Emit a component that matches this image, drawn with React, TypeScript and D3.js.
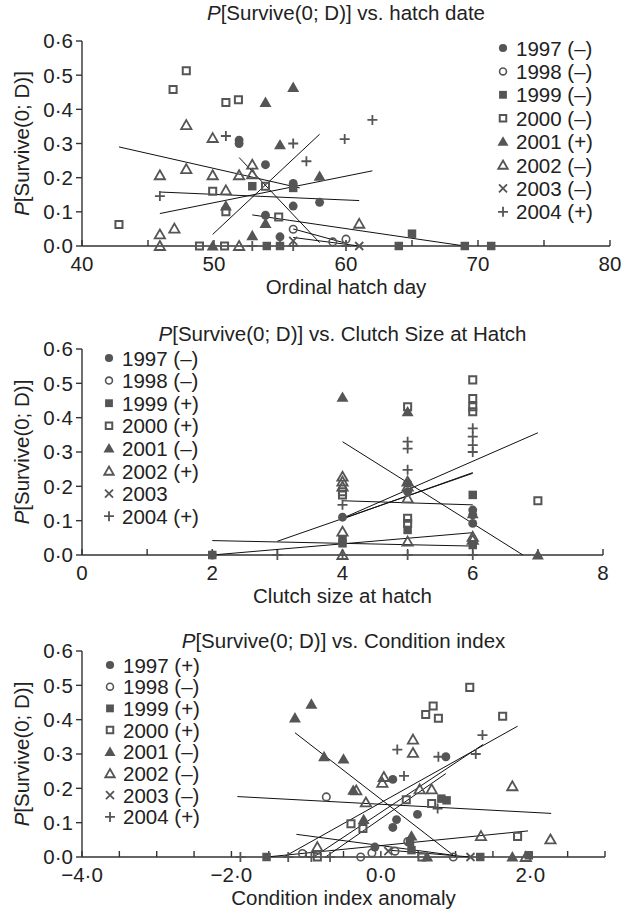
import React from 'react';
import * as d3 from 'd3';

const years = ['1997', '1998', '1999', '2000', '2001', '2002', '2003', '2004'];

// sign of the fitted slope per year, as printed in each legend
const hatchSigns = ['–', '–', '–', '–', '+', '–', '–', '+'];
const clutchSigns = ['–', '–', '+', '+', '–', '+', '', '+'];
const conditionSigns = ['+', '–', '+', '+', '–', '–', '–', '+'];

// [year, x, P]
const hatchPoints: [string, number, number][] = [
  ['1997', 51.9, 0.31], ['1997', 51.9, 0.3], ['1997', 53.9, 0.238], ['1997', 56, 0.183], ['1997', 56, 0.117],
  ['1997', 58, 0.128], ['1997', 53.9, 0.09], ['1997', 55, 0.027],
  ['1998', 56, 0.049], ['1998', 59, 0.012], ['1998', 60, 0.02],
  ['1999', 52.9, 0.175], ['1999', 56, 0.17], ['1999', 54, 0], ['1999', 55, 0], ['1999', 64, 0],
  ['1999', 65, 0.036], ['1999', 69, 0], ['1999', 71, 0],
  ['2000', 47.9, 0.513], ['2000', 46.9, 0.458], ['2000', 50.9, 0.42], ['2000', 51.85, 0.428], ['2000', 42.8, 0.063],
  ['2000', 49.9, 0.16], ['2000', 50.9, 0.1], ['2000', 53.9, 0.175], ['2000', 54.9, 0.085], ['2000', 48.9, 0], ['2000', 50.8, 0],
  ['2001', 56, 0.464], ['2001', 53.9, 0.42], ['2001', 55, 0.296], ['2001', 58, 0.204], ['2001', 50.9, 0.117],
  ['2001', 53.9, 0.066], ['2001', 52.9, 0.03], ['2001', 49.9, 0],
  ['2002', 47.9, 0.354], ['2002', 49.9, 0.316], ['2002', 45.9, 0.207], ['2002', 47.9, 0.225], ['2002', 49.9, 0.207],
  ['2002', 51.9, 0.207], ['2002', 52.9, 0.21], ['2002', 52.9, 0.238], ['2002', 50.9, 0.163], ['2002', 45.9, 0.034],
  ['2002', 47, 0.051], ['2002', 45.9, 0], ['2002', 51.9, 0], ['2002', 61, 0.065],
  ['2003', 56, 0.015], ['2003', 61, 0],
  ['2004', 50.9, 0.322], ['2004', 56, 0.3], ['2004', 57, 0.248], ['2004', 59.9, 0.313], ['2004', 62, 0.369],
  ['2004', 45.9, 0.146], ['2004', 52.9, 0], ['2004', 56, 0], ['2004', 60, 0],
];

// [year, x1, y1, x2, y2]
const hatchFits: [string, number, number, number, number][] = [
  ['1997', 51.9, 0.259, 58, 0.01],
  ['1998', 56, 0.05, 60, 0.008],
  ['1999', 52.9, 0.091, 69, 0],
  ['2000', 42.8, 0.29, 56.5, 0.17],
  ['2001', 49.9, 0.034, 58, 0.327],
  ['2002', 45.9, 0.158, 61, 0.133],
  ['2003', 56, 0.025, 61, 0],
  ['2004', 45.9, 0.095, 62, 0.22],
];

const clutchPoints: [string, number, number][] = [
  ['1997', 2, 0], ['1997', 4, 0.11], ['1997', 5, 0.209], ['1997', 5, 0.184], ['1997', 6, 0.131], ['1997', 6, 0.117], ['1997', 6, 0.092],
  ['1999', 2, 0], ['1999', 4, 0.044], ['1999', 4, 0.034], ['1999', 5, 0.073], ['1999', 6, 0.175], ['1999', 6, 0.029],
  ['2000', 4, 0.184], ['2000', 4, 0.175], ['2000', 5, 0.432], ['2000', 5, 0.107], ['2000', 5, 0.092], ['2000', 6, 0.51],
  ['2000', 6, 0.456], ['2000', 6, 0.432], ['2000', 6, 0.417], ['2000', 7, 0.158],
  ['2001', 4, 0.459], ['2001', 5, 0.417], ['2001', 6, 0.12], ['2001', 7, 0],
  ['2002', 4, 0.228], ['2002', 4, 0.214], ['2002', 4, 0.199], ['2002', 4, 0.068], ['2002', 4, 0], ['2002', 5, 0.214],
  ['2002', 5, 0.199], ['2002', 5, 0.165], ['2002', 5, 0.039], ['2002', 6, 0.053], ['2002', 6, 0.044],
  ['2004', 3, 0], ['2004', 4, 0.146], ['2004', 4, 0], ['2004', 5, 0.33], ['2004', 5, 0.31], ['2004', 5, 0.248], ['2004', 5, 0],
  ['2004', 6, 0.369], ['2004', 6, 0.345], ['2004', 6, 0.32], ['2004', 6, 0.3], ['2004', 6, 0],
];

const clutchFits: [string, number, number, number, number][] = [
  ['1997', 4, 0.158, 6, 0.146],
  ['1998', 2, 0.042, 6, 0.026],
  ['1999', 2, 0, 6, 0.065],
  ['2000', 4, 0.107, 7, 0.356],
  ['2001', 4, 0.33, 6.77, 0],
  ['2002', 4, 0.105, 6, 0.24],
  ['2004', 3, 0.04, 6, 0.238],
];

const conditionPoints: [string, number, number][] = [
  ['1997', 0.87, 0.292], ['1997', 0.16, 0.226], ['1997', 0.49, 0.124], ['1997', 0.21, 0.109], ['1997', 0.16, 0.086], ['1997', -0.08, 0.029],
  ['1998', -0.73, 0.175], ['1998', 0.36, 0.045], ['1998', -0.27, 0], ['1998', -0.12, 0.012], ['1998', 0.19, 0.017], ['1998', 0.97, 0], ['1998', -1.05, 0.01],
  ['1999', -1.53, 0], ['1999', 0.81, 0.17], ['1999', 0.88, 0.165], ['1999', 0.39, 0.044], ['1999', 0.41, 0.02], ['1999', 1.33, 0], ['1999', 1.98, 0.005],
  ['2000', 1.19, 0.494], ['2000', 0.7, 0.44], ['2000', 0.6, 0.415], ['2000', 0.77, 0.404], ['2000', 1.63, 0.41], ['2000', -0.4, 0.097],
  ['2000', 0.34, 0.167], ['2000', 0.68, 0.156], ['2000', -0.24, 0.083], ['2000', 1.83, 0.06], ['2000', -0.85, 0], ['2000', 0.55, 0],
  ['2001', -1.15, 0.405], ['2001', -0.93, 0.445], ['2001', -0.76, 0.292], ['2001', -0.5, 0.285], ['2001', -0.37, 0.194],
  ['2001', -0.23, 0.109], ['2001', 0.41, 0.061], ['2001', 0.62, 0], ['2001', 1.76, 0],
  ['2002', -0.33, 0.194], ['2002', 0.43, 0.342], ['2002', 0.43, 0.303], ['2002', 0.04, 0.233], ['2002', 0.02, 0.216], ['2002', 0.52, 0.197],
  ['2002', 0.68, 0.197], ['2002', -0.2, 0.159], ['2002', 1.76, 0.206], ['2002', 1.34, 0.061], ['2002', 2.27, 0.051], ['2002', -0.85, 0.029], ['2002', 1.94, 0],
  ['2003', 0.1, 0.017], ['2003', 1.2, 0],
  ['2004', 1.36, 0.355], ['2004', 1.27, 0.3], ['2004', 0.22, 0.313], ['2004', 0.77, 0.292], ['2004', 0.31, 0.236], ['2004', 0.76, 0.141],
  ['2004', -1.88, 0], ['2004', -1.24, 0], ['2004', -0.93, 0], ['2004', -0.68, 0],
];

const conditionFits: [string, number, number, number, number][] = [
  ['1997', -0.74, 0, 0.87, 0.243],
  ['1998', -1.13, 0.066, 0.97, 0.005],
  ['1999', -1.53, 0, 1.97, 0.076],
  ['2000', -1.3, 0, 1.83, 0.381],
  ['2001', -1.15, 0.362, 0.97, 0.005],
  ['2002', -1.92, 0.176, 2.28, 0.127],
  ['2003', 0.1, 0.02, 1.2, 0],
  ['2004', -0.9, 0, 1.37, 0.328],
];

const yTicks = [0, 0.1, 0.2, 0.3, 0.4, 0.5, 0.6];
const hatchTicks = [40, 45, 50, 55, 60, 65, 70, 75, 80];
const hatchLabels = [40, 50, 60, 70, 80];
const clutchTicks = [0, 1, 2, 3, 4, 5, 6, 7, 8];
const clutchLabels = [0, 2, 4, 6, 8];
const conditionTicks = [-4, -3.5, -3, -2.5, -2, -1.5, -1, -0.5, 0, 0.5, 1, 1.5, 2, 2.5, 3];
const conditionLabels = [-4, -2, 0, 2];

const FONT = '"Liberation Sans", Arial, sans-serif';
const INK = '#222';
const MARK = '#555';
const FS = 20.5;
const LEFT = 82;

const dotFmt = (v: number) => (v < 0 ? '\u2212' : '') + Math.abs(v).toFixed(1).replace('.', '\u00b7');

function Marker({ year, x, y, legend = false }: { year: string; x: number; y: number; legend?: boolean }) {
  const k = legend ? 0.85 : 1;
  const t = `translate(${x},${y})`;
  switch (year) {
    case '1997':
      return <path transform={t} d={d3.symbol(d3.symbolCircle, 62 * k)()!} fill={MARK} />;
    case '1998':
      return <path transform={t} d={d3.symbol(d3.symbolCircle, 44 * k)()!} fill="none" stroke={MARK} strokeWidth={1.6} />;
    case '1999':
      return <path transform={t} d={d3.symbol(d3.symbolSquare, 72 * k)()!} fill={MARK} />;
    case '2000':
      return <path transform={t} d={d3.symbol(d3.symbolSquare, 50 * k)()!} fill="none" stroke={MARK} strokeWidth={2} />;
    case '2001':
      return <path transform={`translate(${x},${y + 1})`} d={d3.symbol(d3.symbolTriangle, 62 * k)()!} fill={MARK} />;
    case '2002':
      return <path transform={`translate(${x},${y + 1})`} d={d3.symbol(d3.symbolTriangle, 46 * k)()!} fill="none" stroke={MARK} strokeWidth={1.8} />;
    case '2003':
      return <path transform={t} d="M-4,-4L4,4M-4,4L4,-4" stroke={MARK} strokeWidth={1.8} fill="none" />;
    default:
      return <path transform={t} d="M-5,0H5M0,-5V5" stroke={MARK} strokeWidth={1.8} fill="none" />;
  }
}

interface PanelProps {
  top: number;
  bottom: number;
  right: number;
  titleY: number;
  titleRest: string;
  xDomain: [number, number];
  xTicks: number[];
  xLabels: number[];
  xFormat: (v: number) => string;
  xTitle: string;
  points: [string, number, number][];
  fits: [string, number, number, number, number][];
  signs: string[];
  legendX: number;
  legendY: number;
  legendStep: number;
}

function Panel(p: PanelProps) {
  const x = d3.scaleLinear().domain(p.xDomain).range([LEFT, p.right]);
  const y = d3.scaleLinear().domain([0, 0.6]).range([p.bottom, p.top]);
  const line = d3.line<[number, number]>().x(d => x(d[0])).y(d => y(d[1]));
  const midY = (p.top + p.bottom) / 2;
  const midX = (LEFT + p.right) / 2;
  return (
    <g>
      <text x={midX} y={p.titleY} textAnchor="middle" fontSize={FS} fill={INK}>
        <tspan fontStyle="italic">P</tspan>
        {p.titleRest}
      </text>
      <text transform={`translate(29,${midY}) rotate(-90)`} textAnchor="middle" fontSize={FS} fill={INK}>
        <tspan fontStyle="italic">P</tspan>[Survive(0; D)]
      </text>

      {/* axes */}
      <line x1={LEFT} x2={LEFT} y1={p.top} y2={p.bottom} stroke="#333" strokeWidth={1.4} />
      <line x1={LEFT} x2={p.right} y1={p.bottom} y2={p.bottom} stroke="#333" strokeWidth={1.4} />
      {yTicks.map(t => (
        <g key={t}>
          <line x1={76} x2={LEFT} y1={y(t)} y2={y(t)} stroke="#333" strokeWidth={1.4} />
          <text x={73} y={y(t)} dy="0.36em" textAnchor="end" fontSize={FS} fill={INK}>{dotFmt(t)}</text>
        </g>
      ))}
      {p.xTicks.map(t => (
        <line key={t} x1={x(t)} x2={x(t)} y1={p.bottom} y2={p.bottom - 6} stroke="#333" strokeWidth={1.4} />
      ))}
      {p.xLabels.map(t => (
        <text key={t} x={x(t)} y={p.bottom + 25} textAnchor="middle" fontSize={FS} fill={INK}>{p.xFormat(t)}</text>
      ))}
      <text x={midX} y={p.bottom + 48} textAnchor="middle" fontSize={FS} fill={INK}>{p.xTitle}</text>

      {/* fitted lines */}
      {p.fits.map((f, i) => (
        <path key={i} d={line([[f[1], f[2]], [f[3], f[4]]])!} stroke="#111" strokeWidth={1} fill="none" />
      ))}

      {/* points */}
      {p.points.map((d, i) => (
        <Marker key={i} year={d[0]} x={x(d[1])} y={y(d[2])} />
      ))}

      {/* legend */}
      {years.map((yr, i) => {
        const cy = p.legendY + i * p.legendStep;
        const sign = p.signs[i];
        return (
          <g key={yr}>
            <Marker year={yr} x={p.legendX} y={cy} legend />
            <text x={p.legendX + 13} y={cy + 7.5} fontSize={FS} fill={INK}>
              {sign ? `${yr} (${sign})` : yr}
            </text>
          </g>
        );
      })}
    </g>
  );
}

export default function App() {
  return (
    <svg width={624} height={911} style={{ position: 'absolute', left: 0, top: 0, background: '#fff', fontFamily: FONT }}>
      <rect width={624} height={911} fill="#fff" />
      <Panel
        top={41} bottom={246} right={610} titleY={20}
        titleRest="[Survive(0; D)] vs. hatch date"
        xDomain={[40, 80]} xTicks={hatchTicks} xLabels={hatchLabels} xFormat={v => String(v)}
        xTitle="Ordinal hatch day"
        points={hatchPoints} fits={hatchFits} signs={hatchSigns}
        legendX={503} legendY={48} legendStep={23.4}
      />
      <Panel
        top={349} bottom={555} right={603} titleY={341}
        titleRest="[Survive(0; D)] vs. Clutch Size at Hatch"
        xDomain={[0, 8]} xTicks={clutchTicks} xLabels={clutchLabels} xFormat={v => String(v)}
        xTitle="Clutch size at hatch"
        points={clutchPoints} fits={clutchFits} signs={clutchSigns}
        legendX={109} legendY={358} legendStep={22.6}
      />
      <Panel
        top={651} bottom={857} right={605} titleY={648}
        titleRest="[Survive(0; D)] vs. Condition index"
        xDomain={[-4, 3]} xTicks={conditionTicks} xLabels={conditionLabels} xFormat={dotFmt}
        xTitle="Condition index anomaly"
        points={conditionPoints} fits={conditionFits} signs={conditionSigns}
        legendX={110} legendY={665} legendStep={21.7}
      />
    </svg>
  );
}
